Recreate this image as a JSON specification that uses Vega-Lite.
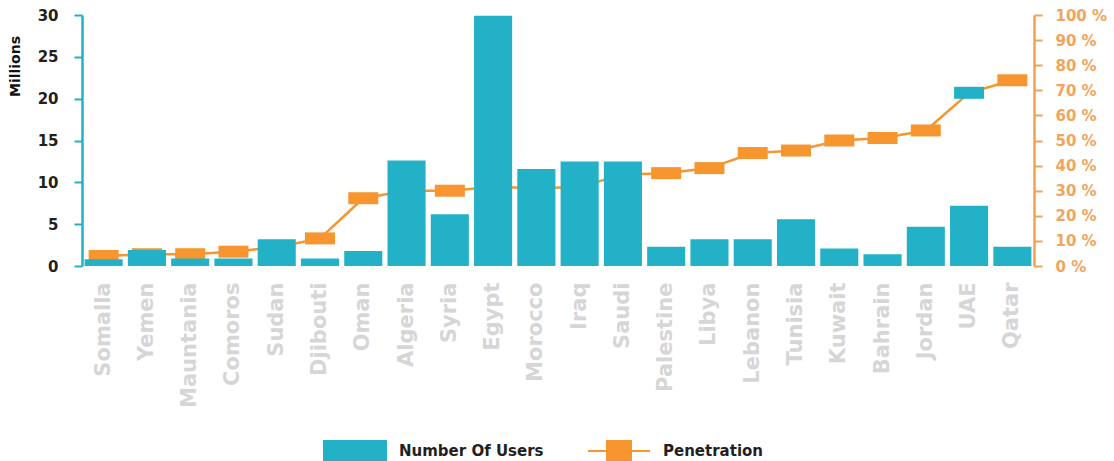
{
  "$schema": "https://vega.github.io/schema/vega-lite/v6.json",
  "autosize": "none",
  "width": 952,
  "height": 251,
  "padding": {"left": 82, "top": 15, "right": 80, "bottom": 195},
  "background": "white",
  "config": {
    "view": {"stroke": null},
    "font": "DejaVu Sans"
  },
  "data": {
    "values": [
      {"country": "Somalla", "users": 0.8, "penetration": 4},
      {"country": "Yemen", "users": 1.9, "penetration": 4.7},
      {"country": "Mauntania", "users": 0.9, "penetration": 4.7},
      {"country": "Comoros", "users": 0.9, "penetration": 5.7},
      {"country": "Sudan", "users": 3.2, "penetration": 7.5},
      {"country": "Djibouti", "users": 0.9, "penetration": 11},
      {"country": "Oman", "users": 1.8, "penetration": 27},
      {"country": "Algeria", "users": 12.6, "penetration": 30},
      {"country": "Syria", "users": 6.2, "penetration": 30},
      {"country": "Egypt", "users": 29.9, "penetration": 31.5},
      {"country": "Morocco", "users": 11.6, "penetration": 31},
      {"country": "Iraq", "users": 12.5, "penetration": 31.5},
      {"country": "Saudi", "users": 12.5, "penetration": 36.5},
      {"country": "Palestine", "users": 2.3, "penetration": 37},
      {"country": "Libya", "users": 3.2, "penetration": 39},
      {"country": "Lebanon", "users": 3.2, "penetration": 45},
      {"country": "Tunisia", "users": 5.6, "penetration": 46},
      {"country": "Kuwait", "users": 2.1, "penetration": 50},
      {"country": "Bahrain", "users": 1.4, "penetration": 51},
      {"country": "Jordan", "users": 4.7, "penetration": 54},
      {"country": "UAE", "users": 7.2, "penetration": 69},
      {"country": "Qatar", "users": 2.3, "penetration": 74}
    ]
  },
  "encoding": {
    "x": {
      "field": "country",
      "type": "nominal",
      "sort": null,
      "scale": {"paddingInner": 0.12, "paddingOuter": 0.06},
      "axis": {
        "title": null,
        "domain": false,
        "ticks": false,
        "tickSize": 0,
        "labelAngle": -90,
        "labelAlign": "right",
        "labelBaseline": "middle",
        "labelPadding": 16,
        "labelFont": "DejaVu Sans",
        "labelFontWeight": "bold",
        "labelFontSize": 21,
        "labelColor": "#d6d6d6"
      }
    }
  },
  "layer": [
    {
      "encoding": {
        "y": {
          "field": "penetration",
          "type": "quantitative",
          "scale": {"domain": [0, 100], "nice": false, "zero": true},
          "axis": {
            "orient": "right",
            "title": null,
            "values": [0, 10, 20, 30, 40, 50, 60, 70, 80, 90, 100],
            "labelExpr": "datum.value + ' %'",
            "grid": false,
            "domainColor": "#f5a04e",
            "domainWidth": 2.5,
            "tickColor": "#f5a04e",
            "tickWidth": 2,
            "tickSize": 8,
            "labelPadding": 13,
            "labelFont": "DejaVu Sans",
            "labelFontWeight": "bold",
            "labelFontSize": 15,
            "labelColor": "#f2a45c"
          }
        }
      },
      "layer": [
        {
          "mark": {"type": "line", "strokeWidth": 2.5},
          "encoding": {
            "color": {"datum": "Penetration"}
          }
        },
        {
          "mark": {"type": "tick", "size": 30, "thickness": 12, "opacity": 1},
          "encoding": {
            "color": {
              "condition": {"test": "datum.country === 'UAE'", "value": "#22b1c7"},
              "value": "#f7952f"
            }
          }
        }
      ]
    },
    {
      "mark": {"type": "bar"},
      "encoding": {
        "y": {
          "field": "users",
          "type": "quantitative",
          "scale": {"domain": [0, 30], "nice": false},
          "axis": {
            "orient": "left",
            "title": "Millions",
            "titleFont": "DejaVu Sans",
            "titleFontWeight": "bold",
            "titleFontSize": 14,
            "titleColor": "#111111",
            "titleAngle": 270,
            "titleAlign": "center",
            "titleBaseline": "middle",
            "titleX": -67,
            "titleY": 51,
            "values": [0, 5, 10, 15, 20, 25, 30],
            "grid": false,
            "domainColor": "#22b1c7",
            "domainWidth": 2.5,
            "tickColor": "#22b1c7",
            "tickWidth": 2,
            "tickSize": 8,
            "labelPadding": 16,
            "labelFont": "DejaVu Sans",
            "labelFontWeight": "bold",
            "labelFontSize": 15,
            "labelColor": "#231f20"
          }
        },
        "color": {
          "datum": "Number Of Users",
          "scale": {
            "domain": ["Number Of Users", "Penetration"],
            "range": ["#22b1c7", "#f7952f"]
          },
          "legend": {
            "title": null,
            "orient": "none",
            "direction": "horizontal",
            "legendX": 252,
            "legendY": 415,
            "padding": 0,
            "labelFont": "DejaVu Sans",
            "labelFontWeight": "bold",
            "labelFontSize": 15,
            "labelColor": "#231f20",
            "labelOffset": 23,
            "columnPadding": 40,
            "symbolSize": 1600,
            "encode": {
              "symbols": {
                "update": {
                  "shape": {"signal": "datum.value === 'Penetration' ? 'M-1.55,0H1.55M-0.6,-0.5H0.6V0.5H-0.6Z' : 'M-1.55,-0.5H1.55V0.5H-1.55Z'"},
                  "size": {"value": 1600},
                  "fill": {"signal": "scale('color', datum.value)"},
                  "stroke": {"signal": "scale('color', datum.value)"},
                  "strokeWidth": {"value": 2},
                  "opacity": {"value": 1},
                  "fillOpacity": {"value": 1}
                }
              }
            }
          }
        }
      }
    }
  ],
  "resolve": {"scale": {"y": "independent"}}
}
